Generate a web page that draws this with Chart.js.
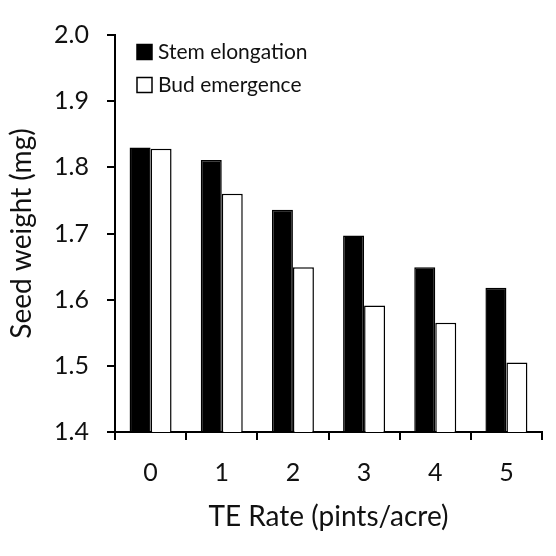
<!DOCTYPE html>
<html>
<head>
<meta charset="utf-8">
<script src="https://cdn.jsdelivr.net/npm/chart.js@4"></script>
<style>
  html, body { margin: 0; padding: 0; background: #fff; }
  #wrap { width: 556px; height: 556px; }
</style>
</head>
<body>
<div id="wrap"><canvas id="grafico" width="556" height="556"></canvas></div>
<script>
// dados
const taxas = ["0", "1", "2", "3", "4", "5"];
const alongamento = [1.830, 1.811, 1.736, 1.697, 1.649, 1.618];
const emergencia = [1.828, 1.760, 1.649, 1.591, 1.565, 1.505];
const ticksY = [1.4, 1.5, 1.6, 1.7, 1.8, 1.9, 2.0];

const fonte = "Lato, 'Open Sans', sans-serif";
const corTexto = "#111";

// legenda desenhada dentro da área do gráfico (canto superior esquerdo)
const legendaInterna = {
  id: "legendaInterna",
  afterDraw(chart) {
    const c = chart.ctx;
    const area = chart.chartArea;
    c.save();
    c.font = "21px " + fonte;
    c.textBaseline = "middle";
    c.textAlign = "left";
    chart.data.datasets.forEach((ds, i) => {
      const cy = area.top + 17 + i * 33;
      const bx = area.left + 22;
      c.fillStyle = ds.backgroundColor;
      c.fillRect(bx, cy - 7.5, 15, 15);
      c.strokeStyle = ds.borderColor;
      c.lineWidth = 1.5;
      c.strokeRect(bx, cy - 7.5, 15, 15);
      c.fillStyle = corTexto;
      c.fillText(ds.label, bx + 21, cy);
    });
    c.restore();
  }
};

const ctx = document.getElementById("grafico");
new Chart(ctx, {
  type: "bar",
  data: {
    labels: taxas,
    datasets: [
      {
        label: "Stem elongation",
        data: alongamento,
        backgroundColor: "#000",
        borderColor: "#000",
        borderWidth: 1.5,
        borderSkipped: "bottom"
      },
      {
        label: "Bud emergence",
        data: emergencia,
        backgroundColor: "#fff",
        borderColor: "#000",
        borderWidth: 1.5,
        borderSkipped: "bottom"
      }
    ]
  },
  plugins: [legendaInterna],
  options: {
    responsive: false,
    animation: false,
    devicePixelRatio: 1,
    layout: { padding: { left: 0, right: 14, top: 35, bottom: 22 } },
    datasets: { bar: { barPercentage: 1.0, categoryPercentage: 0.59 } },
    plugins: {
      tooltip: { enabled: false },
      legend: { display: false }
    },
    scales: {
      x: {
        offset: true,
        grid: {
          display: true,
          offset: true,
          drawOnChartArea: false,
          drawTicks: true,
          tickLength: 8,
          color: "#000",
          lineWidth: 2
        },
        border: { display: true, color: "#000", width: 2 },
        ticks: {
          color: corTexto,
          font: { family: fonte, size: 25 },
          padding: 18
        },
        title: {
          display: true,
          text: "TE Rate (pints/acre)",
          color: corTexto,
          font: { family: fonte, size: 28 },
          padding: { top: 6, bottom: 0 }
        },
        afterFit: function (escala) { escala.height = 102; }
      },
      y: {
        min: 1.4,
        max: 2.0,
        afterBuildTicks: function (escala) {
          escala.ticks = ticksY.map(v => ({ value: v }));
        },
        grid: {
          display: true,
          drawOnChartArea: false,
          drawTicks: true,
          tickLength: 8,
          color: "#000",
          lineWidth: 2
        },
        border: { display: true, color: "#000", width: 2 },
        ticks: {
          color: corTexto,
          font: { family: fonte, size: 25 },
          padding: 18,
          callback: function (v) { return Number(v).toFixed(1); }
        },
        title: {
          display: true,
          text: "Seed weight (mg)",
          color: corTexto,
          font: { family: fonte, size: 28 },
          padding: { top: 5, bottom: 4 }
        },
        afterFit: function (escala) { escala.width = 115; }
      }
    }
  }
});
</script>
</body>
</html>
